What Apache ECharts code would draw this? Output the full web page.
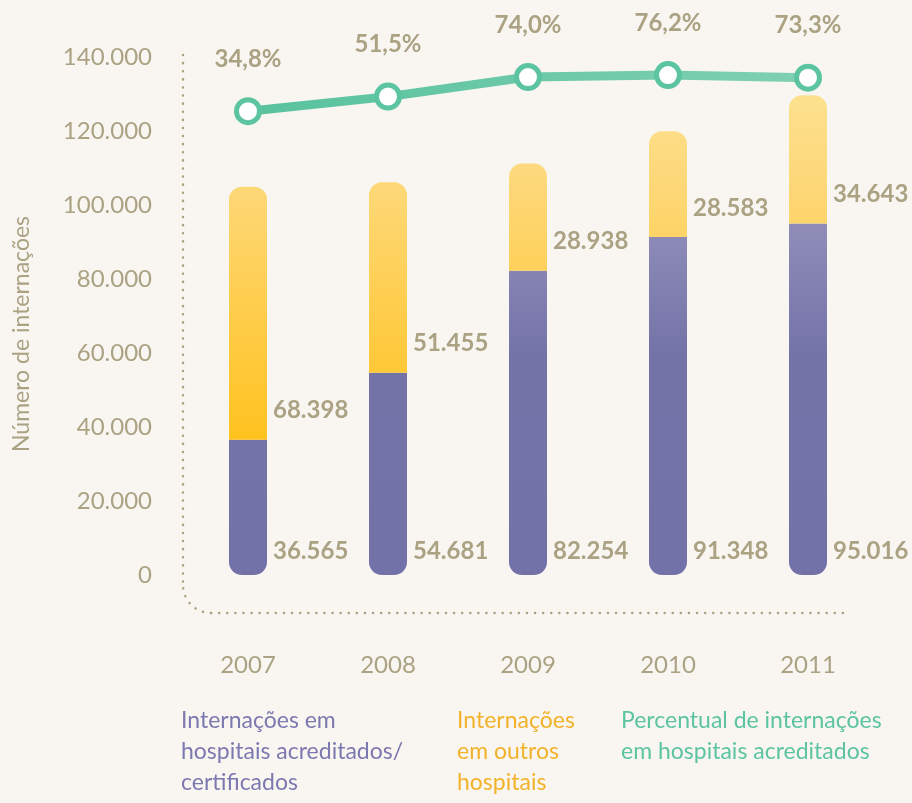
<!DOCTYPE html>
<html>
<head>
<meta charset="utf-8">
<script src="https://cdn.jsdelivr.net/npm/echarts@6/dist/echarts.min.js"></script>
<style>
  html, body { margin: 0; padding: 0; background: #f9f6f1; }
  #chart { width: 912px; height: 803px; }
</style>
</head>
<body>
<div id="chart"></div>
<script>
  var anos = ['2007', '2008', '2009', '2010', '2011'];
  var acreditados = [36565, 54681, 82254, 91348, 95016];
  var outros = [68398, 51455, 28938, 28583, 34643];
  var percentual = [34.8, 51.5, 74.0, 76.2, 73.3];
  var yTicks = [0, 20000, 40000, 60000, 80000, 100000, 120000, 140000];

  var nomes = {
    'Internações em hospitais acreditados/certificados': 'Internações em\nhospitais acreditados/\ncertificados',
    'Internações em outros hospitais': 'Internações\nem outros\nhospitais',
    'Percentual de internações em hospitais acreditados': 'Percentual de internações\nem hospitais acreditados'
  };

  var tan = '#aba283';
  var fonte = 'Lato';

  function milhar(v) {
    return String(v).replace(/\B(?=(\d{3})+(?!\d))/g, '.');
  }

  function gradiente(x, y, x2, y2, stops, global) {
    return {
      type: 'linear', x: x, y: y, x2: x2, y2: y2, global: !!global,
      colorStops: stops.map(function (s) { return { offset: s[0], color: s[1] }; })
    };
  }

  var chart = echarts.init(document.getElementById('chart'));

  var labelBarra = function (off) {
    return {
      show: true,
      position: ['100%', '100%'],
      align: 'left',
      verticalAlign: 'bottom',
      offset: [6, off],
      color: tan,
      fontFamily: fonte,
      fontWeight: 'bold',
      fontSize: 24,
      formatter: function (p) { return milhar(p.value); }
    };
  };

  function legenda(nome, left, cor) {
    return {
      data: [nome],
      left: left,
      top: 705,
      icon: 'none',
      itemWidth: 0,
      itemGap: 0,
      padding: 0,
      selectedMode: false,
      formatter: function (n) { return nomes[n]; },
      textStyle: { color: cor, fontFamily: fonte, fontSize: 23, lineHeight: 31 }
    };
  }

  // eixo pontilhado com canto arredondado
  var pontilhado = { fill: null, stroke: tan, lineWidth: 2.5, lineDash: [0.1, 8], lineCap: 'round' };

  chart.setOption({
    backgroundColor: '#f9f6f1',
    animation: false,
    grid: { left: 178, right: 34, top: 57, bottom: 228 },
    legend: [
      legenda('Internações em hospitais acreditados/certificados', 176, '#7c78b0'),
      legenda('Internações em outros hospitais', 452, '#f2b22a'),
      legenda('Percentual de internações em hospitais acreditados', 616, '#5cc4a0')
    ],
    graphic: [
      { type: 'line', silent: true, shape: { x1: 183, y1: 55, x2: 183, y2: 585 }, style: pontilhado },
      { type: 'arc', silent: true, shape: { cx: 211, cy: 585, r: 28, startAngle: Math.PI / 2, endAngle: Math.PI, clockwise: true }, style: pontilhado },
      { type: 'line', silent: true, shape: { x1: 211, y1: 613, x2: 845, y2: 613 }, style: pontilhado },
      {
        type: 'text', silent: true, x: 22, y: 334, rotation: Math.PI / 2,
        style: { text: 'Número de internações', fill: tan, font: '23px Lato', align: 'center', verticalAlign: 'middle' }
      }
    ],
    xAxis: {
      type: 'category',
      data: anos,
      axisLine: { show: false },
      axisTick: { show: false },
      axisLabel: { margin: 78, color: tan, fontFamily: fonte, fontSize: 24 }
    },
    yAxis: [{
      type: 'value',
      min: 0,
      max: 140000,
      interval: 20000,
      splitLine: { show: false },
      axisLine: { show: false },
      axisTick: { show: false },
      axisLabel: {
        margin: 26, color: tan, fontFamily: fonte, fontSize: 24,
        formatter: function (v) { return yTicks.indexOf(v) >= 0 ? milhar(v) : ''; }
      }
    }, {
      type: 'value',
      min: -498,
      max: 97,
      show: false,
      splitLine: { show: false }
    }],
    series: [{
      name: 'Internações em hospitais acreditados/certificados',
      type: 'bar',
      stack: 'total',
      barWidth: 38,
      data: acreditados,
      itemStyle: {
        borderRadius: [0, 0, 13, 13],
        color: gradiente(0, 90, 0, 575, [[0, '#aba7c8'], [0.55, '#7473a8'], [1, '#7272a8']], true)
      },
      label: labelBarra(-12)
    }, {
      name: 'Internações em outros hospitais',
      type: 'bar',
      stack: 'total',
      barWidth: 38,
      data: outros,
      itemStyle: {
        borderRadius: [13, 13, 0, 0],
        color: gradiente(0, 90, 0, 440, [[0, '#fde190'], [0.27, '#fdd878'], [1, '#ffc21f']], true)
      },
      label: labelBarra(-17)
    }, {
      name: 'Percentual de internações em hospitais acreditados',
      type: 'line',
      yAxisIndex: 1,
      data: percentual,
      symbol: 'circle',
      symbolSize: 23,
      z: 5,
      lineStyle: {
        width: 9,
        color: gradiente(0, 0, 1, 0, [[0, '#58c29d'], [1, '#80d0b3']])
      },
      itemStyle: { color: '#ffffff', borderColor: '#5cc4a0', borderWidth: 5 },
      label: {
        show: true,
        position: 'top',
        distance: 26,
        color: tan,
        fontFamily: fonte,
        fontWeight: 'bold',
        fontSize: 24,
        formatter: function (p) { return p.value.toFixed(1).replace('.', ',') + '%'; }
      }
    }]
  });
</script>
</body>
</html>
